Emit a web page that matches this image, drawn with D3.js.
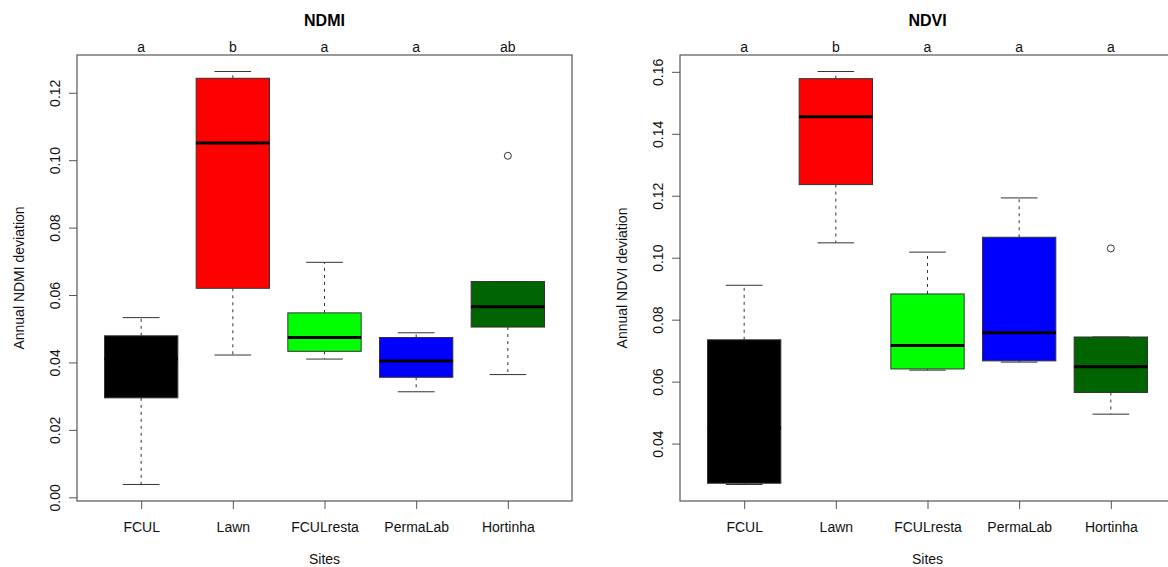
<!DOCTYPE html>
<html>
<head>
<meta charset="utf-8">
<script src="https://cdn.jsdelivr.net/npm/d3@7"></script>
<style>
  body { margin: 0; background: #fff; }
  svg { display: block; font-family: "Liberation Sans", Arial, Helvetica, sans-serif; }
  .tick line { stroke: #555; }
  .tick text { font-size: 14px; fill: #111; }
</style>
</head>
<body>
<svg id="viz" width="1168" height="567"></svg>
<script>
// DATA
var sites = ["FCUL", "Lawn", "FCULresta", "PermaLab", "Hortinha"];
var boxColors = ["#000000", "#ff0000", "#00ff00", "#0000ff", "#006400"];

// [lower whisker, Q1, median, Q3, upper whisker]
var ndmiStats = [
    [0.0038, 0.0295, 0.0410, 0.0479, 0.0533],
    [0.0422, 0.0620, 0.1051, 0.1243, 0.1263],
    [0.0410, 0.0433, 0.0474, 0.0547, 0.0697],
    [0.0313, 0.0356, 0.0404, 0.0474, 0.0488],
    [0.0364, 0.0505, 0.0565, 0.0640, 0.0640]
];
var ndmiOutliers = [[], [], [], [], [0.1013]];
var ndmiLetters = ["a", "b", "a", "a", "ab"];
var ndmiTicks = [0.00, 0.02, 0.04, 0.06, 0.08, 0.10, 0.12];

var ndviStats = [
    [0.0268, 0.0272, 0.0450, 0.0735, 0.0911],
    [0.1048, 0.1236, 0.1455, 0.1578, 0.1601],
    [0.0637, 0.0641, 0.0717, 0.0883, 0.1018],
    [0.0663, 0.0667, 0.0758, 0.1066, 0.1193],
    [0.0495, 0.0565, 0.0648, 0.0744, 0.0744]
];
var ndviOutliers = [[], [], [], [], [0.1030]];
var ndviLetters = ["a", "b", "a", "a", "a"];
var ndviTicks = [0.04, 0.06, 0.08, 0.10, 0.12, 0.14, 0.16];

var svg = d3.select("#viz");
var top_ = 55, bottom_ = 501, panelW = 495;

function drawPanel(left, title, yLabel, stats, outliers, letters, ticks) {
    var g = svg.append("g");

    // R style: data range stretched 4% each side
    var all = d3.merge(stats).concat(d3.merge(outliers));
    var lo = d3.min(all), hi = d3.max(all), pad = (hi - lo) * 0.04;
    var y = d3.scaleLinear().domain([lo - pad, hi + pad]).range([bottom_, top_]);
    var x = d3.scaleLinear().domain([0.3, 5.7]).range([left, left + panelW]);
    var bw = (x(1.4) - x(1)), cap = bw / 2; // box half width 0.4, cap half width 0.2

    // whiskers
    stats.forEach(function (s, i) {
        var cx = x(i + 1);
        g.append("line").attr("x1", cx).attr("x2", cx).attr("y1", y(s[3])).attr("y2", y(s[4]))
            .attr("stroke", "#333").attr("stroke-dasharray", "3,4");
        g.append("line").attr("x1", cx).attr("x2", cx).attr("y1", y(s[1])).attr("y2", y(s[0]))
            .attr("stroke", "#333").attr("stroke-dasharray", "3,4");
        g.append("line").attr("x1", cx - cap).attr("x2", cx + cap).attr("y1", y(s[4])).attr("y2", y(s[4]))
            .attr("stroke", "#333");
        g.append("line").attr("x1", cx - cap).attr("x2", cx + cap).attr("y1", y(s[0])).attr("y2", y(s[0]))
            .attr("stroke", "#333");
    });

    //BOXES
    g.selectAll(".box").data(stats).enter().append("rect")
        .attr("class", "box")
        .attr("x", function (d, i) { return x(i + 1) - bw; })
        .attr("width", bw * 2)
        .attr("y", function (d) { return y(d[3]); })
        .attr("height", function (d) { return y(d[1]) - y(d[3]); })
        .attr("fill", function (d, i) { return boxColors[i]; })
        .attr("stroke", "#333").attr("stroke-width", 1);

    g.selectAll(".median").data(stats).enter().append("line")
        .attr("class", "median")
        .attr("x1", function (d, i) { return x(i + 1) - bw; })
        .attr("x2", function (d, i) { return x(i + 1) + bw; })
        .attr("y1", function (d) { return y(d[2]); })
        .attr("y2", function (d) { return y(d[2]); })
        .attr("stroke", "#000").attr("stroke-width", 3);

    outliers.forEach(function (o, i) {
        o.forEach(function (v) {
            g.append("circle").attr("cx", x(i + 1)).attr("cy", y(v)).attr("r", 3.5)
                .attr("fill", "none").attr("stroke", "#333");
        });
    });

    // frame
    g.append("rect").attr("x", left).attr("y", top_).attr("width", panelW).attr("height", bottom_ - top_)
        .attr("fill", "none").attr("stroke", "#555").attr("stroke-width", 1.2);

    //AXES
    var yAxis = g.append("g").attr("transform", "translate(" + left + ",0)")
        .call(d3.axisLeft(y).tickValues(ticks).tickSize(8).tickFormat(d3.format(".2f")));
    yAxis.select(".domain").remove();
    yAxis.selectAll("text")
        .attr("x", null).attr("dy", null)
        .attr("text-anchor", "middle")
        .attr("transform", "translate(-17,0) rotate(-90)");

    var xAxis = g.append("g").attr("transform", "translate(0," + bottom_ + ")")
        .call(d3.axisBottom(x).tickValues([1, 2, 3, 4, 5]).tickSize(8)
            .tickFormat(function (d) { return sites[d - 1]; }));
    xAxis.select(".domain").remove();
    xAxis.selectAll("text").attr("y", 31).attr("dy", null);

    // letters above boxes
    g.selectAll(".letter").data(letters).enter().append("text")
        .attr("class", "letter")
        .attr("x", function (d, i) { return x(i + 1); })
        .attr("y", 52)
        .attr("text-anchor", "middle").attr("font-size", 14).attr("fill", "#111")
        .text(function (d) { return d; });

    var mid = left + panelW / 2;
    g.append("text").attr("x", mid).attr("y", 26).attr("text-anchor", "middle")
        .attr("font-size", 16).attr("font-weight", "bold").text(title);
    g.append("text").attr("x", mid).attr("y", 564).attr("text-anchor", "middle")
        .attr("font-size", 14).attr("fill", "#111").text("Sites");
    g.append("text")
        .attr("transform", "translate(" + (left - 53) + "," + ((top_ + bottom_) / 2) + ") rotate(-90)")
        .attr("text-anchor", "middle").attr("font-size", 14).attr("fill", "#111").text(yLabel);
}

drawPanel(77, "NDMI", "Annual NDMI deviation", ndmiStats, ndmiOutliers, ndmiLetters, ndmiTicks);
drawPanel(680, "NDVI", "Annual NDVI deviation", ndviStats, ndviOutliers, ndviLetters, ndviTicks);
</script>
</body>
</html>
